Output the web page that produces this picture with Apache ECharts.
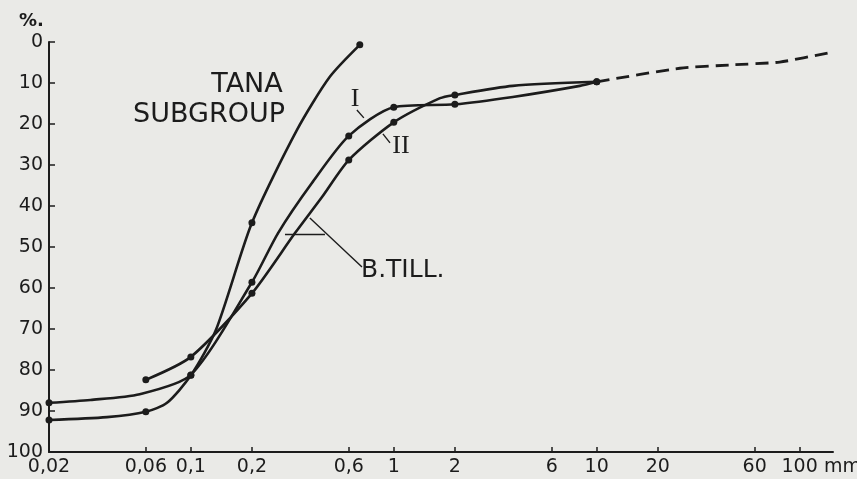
<!DOCTYPE html>
<html><head><meta charset="utf-8">
<script src="https://cdn.jsdelivr.net/npm/echarts@6/dist/echarts.min.js"></script>
<style>html,body{margin:0;padding:0;background:#eaeae7;} #c{width:857px;height:479px;}</style>
</head><body><div id="c"></div>
<script>
// Tick values and labels
const xTicks = [0.02, 0.06, 0.1, 0.2, 0.6, 1, 2, 6, 10, 20, 60, 100];
const xTickLabels = ['0,02', '0,06', '0,1', '0,2', '0,6', '1', '2', '6', '10', '20', '60', '100'];
const yTicks = [0, 10, 20, 30, 40, 50, 60, 70, 80, 90, 100];

// TANA SUBGROUP curve (grain size mm, %)  mark = measured dot
const tanaX = [0.02, 0.0386, 0.06, 0.0763, 0.1, 0.133, 0.2, 0.333, 0.484, 0.68];
const tanaY = [92.2, 91.5, 90.2, 88.0, 81.3, 70.2, 44.1, 21.5, 8.5, 0.7];
const tanaMark = [1, 0, 1, 0, 1, 0, 1, 0, 0, 1];

// B. TILL curve I
const till1X = [0.02, 0.032, 0.056, 0.1, 0.2, 0.269, 0.395, 0.6, 1, 2, 3.86, 8.26, 10];
const till1Y = [88.0, 87.3, 85.9, 81.2, 58.6, 46.6, 34.4, 22.9, 15.9, 15.2, 13.4, 10.7, 9.7];
const till1Mark = [1, 0, 0, 1, 1, 0, 0, 1, 1, 1, 0, 0, 1];

// B. TILL curve II
const till2X = [0.06, 0.1, 0.2, 0.326, 0.443, 0.6, 1, 1.69, 2, 3.86, 10];
const till2Y = [82.4, 76.8, 61.3, 46.6, 37.8, 28.8, 19.6, 13.7, 12.9, 10.7, 9.7];
const till2Mark = [1, 1, 1, 0, 0, 1, 1, 0, 1, 0, 1];

// Dashed extension beyond 10 mm
const extX = [10, 25.7, 45.3, 79.8, 140];
const extY = [9.7, 6.4, 5.6, 4.9, 2.6];

// Leader lines (data space)
const leaders = [
  [[0.291, 46.8], [0.458, 46.8]],
  [[0.386, 42.9], [0.697, 54.9]],
  [[0.658, 16.6], [0.712, 18.5]],
  [[0.884, 22.4], [0.958, 24.6]]
];

const INK = '#1c1c1c';
function build(xs, ys, marks) {
  return xs.map((x, i) => ({ value: [x, ys[i]], symbol: marks[i] ? 'circle' : 'none' }));
}
function lineSeries(data) {
  return {
    type: 'line', data: data, smooth: 0.25, symbolSize: 7, showSymbol: true,
    lineStyle: { color: INK, width: 2.6 }, itemStyle: { color: INK }, silent: true, z: 3
  };
}

const chart = echarts.init(document.getElementById('c'), null, { renderer: 'canvas' });
const font = 'DejaVu Sans';
chart.setOption({
  backgroundColor: '#eaeae7',
  animation: false,
  grid: { left: 49, top: 42, width: 784, height: 410, outerBoundsMode: 'none', containLabel: false },
  xAxis: {
    type: 'log', logBase: 10, min: 0.02, max: 146, position: 'bottom',
    name: 'mm', nameLocation: 'end', nameGap: -9,
    nameTextStyle: { fontFamily: font, fontSize: 19, color: INK, verticalAlign: 'top', align: 'left', padding: [6, 0, 0, 0] },
    axisLine: { show: true, onZero: false, lineStyle: { color: INK, width: 2 } },
    axisTick: { show: true, inside: true, length: 5, customValues: xTicks, lineStyle: { color: INK, width: 1.5 } },
    axisLabel: {
      customValues: xTicks, margin: 6, fontFamily: font, fontSize: 19, color: INK,
      formatter: function (v) {
        for (let i = 0; i < xTicks.length; i++) {
          if (Math.abs(v - xTicks[i]) / xTicks[i] < 1e-6) return xTickLabels[i];
        }
        return '';
      }
    },
    splitLine: { show: false }, minorTick: { show: false }
  },
  yAxis: {
    type: 'value', inverse: true, min: 0, max: 100, interval: 10,
    axisLine: { show: true, onZero: false, lineStyle: { color: INK, width: 2 } },
    axisTick: { show: true, inside: true, length: 6, lineStyle: { color: INK, width: 1.5 } },
    axisLabel: { margin: 6, fontFamily: font, fontSize: 19, color: INK,
      formatter: function (v) { return yTicks.indexOf(v) >= 0 ? String(v) : ''; } },
    splitLine: { show: false }
  },
  series: [
    lineSeries(build(tanaX, tanaY, tanaMark)),
    lineSeries(build(till1X, till1Y, till1Mark)),
    lineSeries(build(till2X, till2Y, till2Mark)),
    {
      type: 'line', data: extX.map((x, i) => [x, extY[i]]), smooth: 0.2, showSymbol: false, silent: true,
      lineStyle: { color: INK, width: 2.8, type: [13, 7] }
    },
    {
      type: 'line', data: [], silent: true,
      markLine: {
        silent: true, symbol: 'none', animation: false,
        label: { show: false },
        lineStyle: { color: INK, width: 1.4, type: 'solid' },
        emphasis: { disabled: true },
        data: leaders.map(p => [{ coord: p[0] }, { coord: p[1] }])
      }
    }
  ],
  graphic: [
    { type: 'text', left: 19, top: 12, style: { text: '%.', fontFamily: font, fontSize: 18, fontWeight: 'bold', fill: INK } },
    { type: 'text', x: 247, y: 85, style: { text: 'TANA', fontFamily: font, fontSize: 27, fill: INK, align: 'center', verticalAlign: 'middle' } },
    { type: 'text', x: 209, y: 115, style: { text: 'SUBGROUP', fontFamily: font, fontSize: 27, fill: INK, align: 'center', verticalAlign: 'middle' } },
    { type: 'text', x: 355, y: 99, style: { text: 'I', fontFamily: 'Liberation Serif', fontSize: 26, fill: INK, align: 'center', verticalAlign: 'middle' } },
    { type: 'text', x: 401, y: 146, style: { text: 'II', fontFamily: 'Liberation Serif', fontSize: 26, fill: INK, align: 'center', verticalAlign: 'middle' } },
    { type: 'text', x: 361, y: 270, style: { text: 'B.TILL.', fontFamily: font, fontSize: 25, fill: INK, align: 'left', verticalAlign: 'middle' } }
  ]
});
</script>
</body></html>
